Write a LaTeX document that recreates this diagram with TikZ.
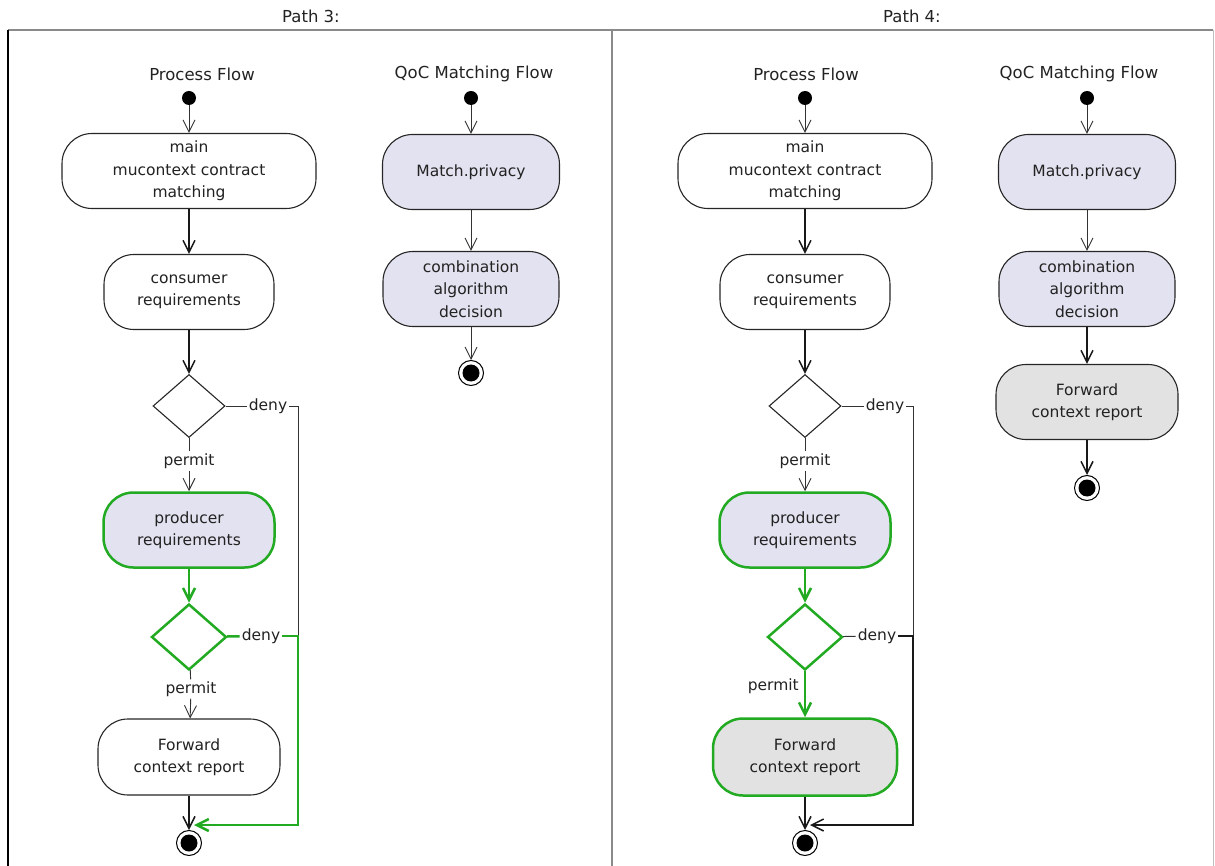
\documentclass[tikz,border=0pt]{standalone}
\usepackage{fontspec}
\setmainfont{DejaVu Sans}
\usepackage{xcolor}
\usetikzlibrary{shapes.geometric, arrows.meta}

\definecolor{lavfill}{HTML}{E2E2F0}
\definecolor{greyfill}{HTML}{E2E2E2}
\definecolor{pathgreen}{HTML}{22AA22}
\definecolor{framegrey}{HTML}{8A8A8A}
\definecolor{inkgrey}{HTML}{222222}
\newcommand{\ufont}{\fontsize{15.5}{22.5}\selectfont}

\begin{document}
\begin{tikzpicture}[
    x=1pt, y=-1pt,
    act/.style={rectangle, draw=black!85, line width=1.1pt, fill=white, text=inkgrey, rounded corners=30pt, minimum height=75pt, align=center, font=\ufont, inner sep=2pt},
    qact/.style={act, fill=lavfill},
    gact/.style={act, fill=greyfill},
    hot/.style={draw=pathgreen, line width=2.5pt},
    dec/.style={diamond, draw=black!85, line width=1.1pt, fill=white, inner sep=0pt, minimum width=72pt, minimum height=63pt},
    startdot/.style={circle, fill=black, inner sep=0pt, minimum size=14pt},
    enddot/.style={circle, draw=black, line width=1pt, fill=white, inner sep=0pt, minimum size=25pt, path picture={\fill[black] (path picture bounding box.center) circle (8.5pt);}},
    lbl/.style={font=\ufont, text=inkgrey, inner sep=2pt},
    head/.style={font=\fontsize{16.5}{19}\selectfont, text=inkgrey, inner sep=0pt},
    weak/.style={draw=black!80, line width=0.9pt},
    taken/.style={draw=black!90, line width=1.5pt},
    hotline/.style={draw=pathgreen, line width=2.5pt},
    arr/.style={-{Straight Barb[length=12pt, width=12pt]}}
]
    \useasboundingbox (0,0) rectangle (1215,866);

    % Frame and titles
    \draw[framegrey, line width=2pt] (8,30) -- (1213,30);
    \draw[black, line width=2pt] (8,30) -- (8,870);
    \draw[framegrey, line width=2pt] (612,30) -- (612,870);
    \draw[black!25, line width=1pt] (1213,30) -- (1213,870);
    \node (p3title) at (311,16) [head] {Path 3:};
    \node (p4title) at (912,16) [head] {Path 4:};

    % Path 3: Process Flow
    \node (p3pf) at (202,74) [head] {Process Flow};
    \node (p3start) at (189,98) [startdot] {};
    \node (p3main) at (189,171) [act, minimum width=254pt] {main\\mucontext contract\\matching};
    \node (p3cons) at (189,292) [act, minimum width=170pt] {consumer\\requirements};
    \node (p3d1) at (189,406) [dec] {};
    \node (p3deny1) at (268,406) [lbl] {deny};
    \node (p3permit1) at (189,461) [lbl] {permit};
    \node (p3prod) at (189,530) [qact, hot, minimum width=171pt] {producer\\requirements};
    \node (p3d2) at (189,637) [dec, hot, minimum width=75pt, minimum height=66pt] {};
    \node (p3deny2) at (261,636) [lbl] {deny};
    \node (p3permit2) at (191,689) [lbl] {permit};
    \node (p3fwd) at (189,757) [act, minimum width=182pt, minimum height=76pt] {Forward\\context report};
    \node (p3end) at (189,843) [enddot] {};
    \coordinate (p3j1) at (298,406);
    \coordinate (p3j2) at (298,636);
    \coordinate (p3j3) at (298,825);
    \coordinate (p3in) at (194,825);

    % Path 3: QoC Matching Flow
    \node (p3qf) at (474,74) [head] {QoC Matching Flow};
    \node (p3qstart) at (471,98) [startdot] {};
    \node (p3match) at (471,172) [qact, minimum width=177pt] {Match.privacy};
    \node (p3comb) at (471,289) [qact, minimum width=176pt] {combination\\algorithm\\decision};
    \node (p3qend) at (471,373) [enddot] {};

    \draw[weak, arr] (p3start) -- (p3main);
    \draw[taken, arr] (p3main) -- (p3cons);
    \draw[taken, arr] (p3cons) -- (p3d1);
    \draw[weak] (p3d1) -- (p3permit1);
    \draw[weak, arr] (p3permit1) -- (p3prod);
    \draw[weak] (p3d1) -- (p3deny1);
    \draw[weak] (p3deny1) -- (p3j1) -- (p3j2);
    \draw[hotline, arr] (p3prod) -- (p3d2);
    \draw[hotline] (p3d2) -- (p3deny2);
    \draw[hotline, arr] (p3deny2) -- (p3j2) -- (p3j3) -- (p3in);
    \draw[weak] (p3d2) -- (p3permit2);
    \draw[weak, arr] (p3permit2) -- (p3fwd);
    \draw[taken, arr] (p3fwd) -- (p3end);
    \draw[weak, arr] (p3qstart) -- (p3match);
    \draw[weak, arr] (p3match) -- (p3comb);
    \draw[weak, arr] (p3comb) -- (p3qend);

    % Path 4: Process Flow
    \node (p4pf) at (806,74) [head] {Process Flow};
    \node (p4start) at (805,98) [startdot] {};
    \node (p4main) at (805,171) [act, minimum width=254pt] {main\\mucontext contract\\matching};
    \node (p4cons) at (805,292) [act, minimum width=170pt] {consumer\\requirements};
    \node (p4d1) at (805,406) [dec] {};
    \node (p4deny1) at (885,406) [lbl] {deny};
    \node (p4permit1) at (805,461) [lbl] {permit};
    \node (p4prod) at (805,530) [qact, hot, minimum width=171pt] {producer\\requirements};
    \node (p4d2) at (805,637) [dec, hot, minimum width=75pt, minimum height=66pt] {};
    \node (p4deny2) at (877,636) [lbl] {deny};
    \node (p4permit2) at (801,686) [lbl, anchor=east] {permit};
    \node (p4fwd) at (805,757) [gact, hot, minimum width=184pt, minimum height=77pt] {Forward\\context report};
    \node (p4end) at (805,843) [enddot] {};
    \coordinate (p4j1) at (913,406);
    \coordinate (p4j2) at (913,636);
    \coordinate (p4j3) at (913,825);
    \coordinate (p4in) at (810,825);

    % Path 4: QoC Matching Flow
    \node (p4qf) at (1079,74) [head] {QoC Matching Flow};
    \node (p4qstart) at (1087,98) [startdot] {};
    \node (p4match) at (1087,172) [qact, minimum width=177pt] {Match.privacy};
    \node (p4comb) at (1087,289) [qact, minimum width=176pt] {combination\\algorithm\\decision};
    \node (p4qfwd) at (1087,402) [gact, minimum width=182pt] {Forward\\context report};
    \node (p4qend) at (1087,488) [enddot] {};

    \draw[weak, arr] (p4start) -- (p4main);
    \draw[taken, arr] (p4main) -- (p4cons);
    \draw[taken, arr] (p4cons) -- (p4d1);
    \draw[weak] (p4d1) -- (p4permit1);
    \draw[weak, arr] (p4permit1) -- (p4prod);
    \draw[weak] (p4d1) -- (p4deny1);
    \draw[weak] (p4deny1) -- (p4j1) -- (p4j2);
    \draw[hotline, arr] (p4prod) -- (p4d2);
    \draw[weak] (p4d2) -- (p4deny2);
    \draw[taken, arr] (p4deny2) -- (p4j2) -- (p4j3) -- (p4in);
    \draw[hotline, arr] (p4d2) -- (p4fwd);
    \draw[taken, arr] (p4fwd) -- (p4end);
    \draw[weak, arr] (p4qstart) -- (p4match);
    \draw[weak, arr] (p4match) -- (p4comb);
    \draw[taken, arr] (p4comb) -- (p4qfwd);
    \draw[taken, arr] (p4qfwd) -- (p4qend);

\end{tikzpicture}
\end{document}
